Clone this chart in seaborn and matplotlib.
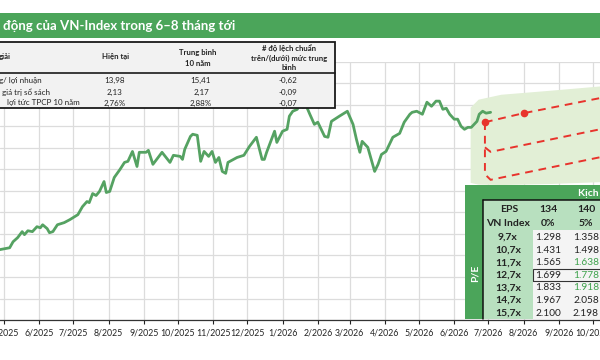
import pandas as pd
import matplotlib
matplotlib.use('Agg')
import matplotlib.pyplot as plt
import matplotlib.dates as mdates
from matplotlib.patches import Rectangle
from matplotlib.lines import Line2D
import seaborn as sns

# --- VN-Index history ---
index_dates = [
    '2025-04-27', '2025-05-06', '2025-05-09', '2025-05-13', '2025-05-17', '2025-05-19',
    '2025-05-22', '2025-05-26', '2025-05-30', '2025-06-02', '2025-06-04', '2025-06-08',
    '2025-06-10', '2025-06-13', '2025-06-17', '2025-06-23', '2025-06-28', '2025-07-05',
    '2025-07-09', '2025-07-13', '2025-07-15', '2025-07-18', '2025-07-21', '2025-07-24',
    '2025-07-28', '2025-07-30', '2025-08-02', '2025-08-06', '2025-08-11', '2025-08-15',
    '2025-08-18', '2025-08-22', '2025-08-26', '2025-08-28', '2025-09-03', '2025-09-05',
    '2025-09-09', '2025-09-17', '2025-09-24', '2025-09-27', '2025-10-03', '2025-10-05',
    '2025-10-07', '2025-10-12', '2025-10-14', '2025-10-18', '2025-10-21', '2025-10-24',
    '2025-10-28', '2025-10-31', '2025-11-03', '2025-11-06', '2025-11-09', '2025-11-12',
    '2025-11-14', '2025-11-22', '2025-11-28', '2025-12-03', '2025-12-09', '2025-12-14',
    '2025-12-16', '2025-12-18', '2025-12-25', '2025-12-27', '2026-01-01', '2026-01-05',
    '2026-01-07', '2026-01-10', '2026-01-14', '2026-01-16', '2026-01-19', '2026-01-22',
    '2026-01-25', '2026-01-29', '2026-02-01', '2026-02-07', '2026-02-10', '2026-02-13',
    '2026-02-20', '2026-02-27', '2026-03-04', '2026-03-07', '2026-03-10', '2026-03-12',
    '2026-03-17', '2026-03-23', '2026-03-26', '2026-03-29', '2026-04-02', '2026-04-08',
    '2026-04-14', '2026-04-18', '2026-04-23', '2026-04-25', '2026-04-29', '2026-05-04',
    '2026-05-08', '2026-05-12', '2026-05-16', '2026-05-19', '2026-05-22', '2026-05-25',
    '2026-05-28', '2026-06-01', '2026-06-04', '2026-06-07', '2026-06-10', '2026-06-13',
    '2026-06-16', '2026-06-21', '2026-06-23', '2026-06-26', '2026-06-29', '2026-07-03',
]
index_values = [
    1127, 1136, 1164, 1183, 1211, 1197, 1215, 1211, 1234, 1229, 1243, 1225,
    1206, 1211, 1243, 1253, 1267, 1290, 1327, 1351, 1346, 1388, 1379, 1398,
    1444, 1393, 1398, 1463, 1500, 1533, 1538, 1584, 1514, 1580, 1580, 1589,
    1524, 1580, 1533, 1566, 1561, 1547, 1594, 1654, 1664, 1659, 1538, 1584,
    1561, 1584, 1533, 1556, 1491, 1482, 1533, 1556, 1566, 1608, 1650, 1547,
    1547, 1580, 1678, 1626, 1678, 1687, 1748, 1771, 1780, 1804, 1790, 1794,
    1757, 1710, 1720, 1654, 1650, 1724, 1748, 1771, 1710, 1640, 1580, 1631,
    1603, 1491, 1524, 1570, 1584, 1650, 1668, 1720, 1757, 1766, 1771, 1757,
    1813, 1794, 1818, 1818, 1780, 1785, 1757, 1734, 1734, 1701, 1687, 1696,
    1696, 1724, 1757, 1771, 1762, 1766,
]

# --- forecast paths and shaded range ---
fc_top_dates = ['2026-06-28', '2026-08-01', '2026-10-10']
fc_top_values = [1720, 1762, 1835]
fc_mid_dates = ['2026-06-28', '2026-07-03', '2026-10-10']
fc_mid_values = [1603, 1582, 1690]
fc_low_dates = ['2026-06-28', '2026-06-28', '2026-07-03', '2026-10-10']
fc_low_values = [1720, 1478, 1452, 1560]

band_dates = ['2026-06-15', '2026-06-22', '2026-07-12', '2026-08-25', '2026-10-10']
band_upper = [1790, 1827, 1850, 1869, 1890]
band_lower = [1440, 1432, 1430, 1435, 1444]

# --- valuation table (top left) ---
val_rows = ['g/ lợi nhuận', 'giá trị sổ sách', 'lợi tức TPCP 10 năm']
val_now = ['13,98', '2,13', '2,76%']
val_avg = ['15,41', '2,17', '2,88%']
val_dev = ['-0,62', '-0,09', '-0,07']

# --- scenario table (bottom right) ---
pe_labels = ['9,7x', '10,7x', '11,7x', '12,7x', '13,7x', '14,7x', '15,7x']
eps_values = ['134', '140']
eps_growth = ['0%', '5%']
col_134 = ['1.298', '1.431', '1.565', '1.699', '1.833', '1.967', '2.100']
col_140 = ['1.358', '1.498', '1.638', '1.778', '1.918', '2.058', '2.198']

GREEN = '#4ba55a'
LIGHT_GREEN = '#b8e0bf'
LINE_GREEN = '#55a262'
RED = '#e8332c'

sns.set_theme(style='whitegrid')
plt.rcParams['font.family'] = ['Lato', 'DejaVu Sans']

W, H = 600, 360
fig = plt.figure(figsize=(6, 3.6), dpi=100)
fig.patch.set_facecolor('white')


def fx(px):
    return px / W


def fy(py):
    return 1 - py / H


def box(x0, y0, x1, y1, **kw):
    fig.patches.append(Rectangle((fx(x0), fy(y1)), fx(x1) - fx(x0), fy(y0) - fy(y1),
                                 transform=fig.transFigure, **kw))


def txt(x, y, s, **kw):
    kw.setdefault('va', 'center')
    fig.text(fx(x), fy(y), s, **kw)


ax = fig.add_axes([0, fy(320), 1, fy(62) - fy(320)])

df = pd.DataFrame({'date': pd.to_datetime(index_dates), 'value': index_values})
band = pd.DataFrame({'date': pd.to_datetime(band_dates), 'hi': band_upper, 'lo': band_lower})

ax.fill_between(band['date'], band['lo'], band['hi'], color='#e2efd6', lw=0, zorder=1)
sns.lineplot(data=df, x='date', y='value', ax=ax, color=LINE_GREEN, lw=2, zorder=3)

ax.plot(pd.to_datetime(fc_top_dates), fc_top_values, ls=(0, (4, 3)), color=RED, lw=1.4, zorder=4)
ax.plot(pd.to_datetime(fc_top_dates[:2]), fc_top_values[:2], 'o', color=RED, ms=4.5, zorder=5)
ax.plot(pd.to_datetime(fc_mid_dates), fc_mid_values, ls=(0, (4, 3)), color=RED, lw=1.4, zorder=4)
ax.plot(pd.to_datetime(fc_low_dates), fc_low_values, ls=(0, (4, 3)), color=RED, lw=1.4, zorder=4)

ax.set_xlim(pd.Timestamp('2025-04-27 12:00'), pd.Timestamp('2026-10-07 05:00'))
ax.set_ylim(800, 2000)
ax.set_yticks(range(800, 2001, 100))
ax.set_yticklabels([])
ax.xaxis.set_major_locator(mdates.MonthLocator())
ax.set_xticks(ax.get_xticks())
ax.set_xticklabels([f'{mdates.num2date(t).month}/{mdates.num2date(t).year}' for t in ax.get_xticks()])
ax.tick_params(axis='x', labelsize=6.3, colors='#222222', length=3, width=0.8, pad=3,
               bottom=True, direction='out')
ax.tick_params(axis='y', length=0)
ax.set_xlabel('')
ax.set_ylabel('')
ax.grid(True, color='#dcdcdc', lw=0.9)
ax.set_facecolor('white')
for side in ['top', 'left', 'right']:
    ax.spines[side].set_visible(False)
ax.spines['bottom'].set_color('#333333')
ax.spines['bottom'].set_linewidth(0.9)

# title banner
box(0, 13, 600, 38, facecolor=GREEN, edgecolor='none', zorder=2)
txt(3, 25.5, 'động của VN-Index trong 6–8 tháng tới', color='white', fontsize=9.5,
    fontweight='bold', ha='left')

# valuation table
box(-5, 42, 335, 108, facecolor='#f2f2f2', edgecolor='#1a1a1a', lw=1.3, zorder=2)
fig.add_artist(Line2D([fx(0), fx(335)], [fy(73), fy(73)], color='#1a1a1a', lw=1.2, zorder=3))
hdr = dict(fontsize=5.6, fontweight='bold', color='#222222', zorder=4)
txt(-1, 57, 'giải', ha='left', **hdr)
txt(116, 57, 'Hiện tại', ha='center', **hdr)
txt(198, 53, 'Trung bình', ha='center', **hdr)
txt(198, 63, '10 năm', ha='center', **hdr)
txt(289, 48, '# độ lệch chuẩn', ha='center', **hdr)
txt(289, 58, 'trên/(dưới) mức trung', ha='center', **hdr)
txt(289, 68, 'bình', ha='center', **hdr)
row_y = [80, 92, 103]
row_x = [-1, 2, 7]
cell = dict(fontsize=5.8, color='#222222', zorder=4)
for y, x, name, a, b, c in zip(row_y, row_x, val_rows, val_now, val_avg, val_dev):
    txt(x, y, name, ha='left', **cell)
    txt(115, y, a, ha='center', **cell)
    txt(201, y, b, ha='center', **cell)
    txt(288, y, c, ha='center', **cell)

# scenario table
box(465, 185, 610, 319, facecolor=GREEN, edgecolor='none', zorder=2)
box(483, 200, 610, 319, facecolor=LIGHT_GREEN, edgecolor='none', zorder=3)
box(533, 230, 610, 319, facecolor='#f4f4f4', edgecolor='none', zorder=3)
fig.add_artist(Line2D([fx(483), fx(483)], [fy(200), fy(319)], color='#111111', lw=1.1, zorder=4))
fig.add_artist(Line2D([fx(483), fx(610)], [fy(200), fy(200)], color='#111111', lw=1.1, zorder=4))
box(533, 269, 610, 281, facecolor='none', edgecolor='#333333', lw=0.8, zorder=4)
txt(578, 193, 'Kịch bản', ha='left', color='white', fontsize=7.5, fontweight='bold', zorder=5)
txt(475, 273, 'P/E', ha='center', color='white', fontsize=7.5, fontweight='bold',
    rotation=90, zorder=5)
bold = dict(fontsize=7.5, fontweight='bold', color='#222222', zorder=5, ha='center')
txt(509, 209, 'EPS', **bold)
txt(508, 224, 'VN Index', **bold)
for x, e, g in zip([548, 586], eps_values, eps_growth):
    txt(x, 209, e, **bold)
    txt(x, 224, g, **bold)
green_rows = {2, 3, 4}
for i, (pe, a, b) in enumerate(zip(pe_labels, col_134, col_140)):
    y = 237.5 + i * 12.6
    txt(508, y, pe, **bold)
    txt(548, y, a, ha='center', fontsize=7.3, color='#222222', zorder=5)
    txt(586, y, b, ha='center', fontsize=7.3,
        color='#3fa34d' if i in green_rows else '#222222', zorder=5)

fig.savefig('out.png', dpi=100)
